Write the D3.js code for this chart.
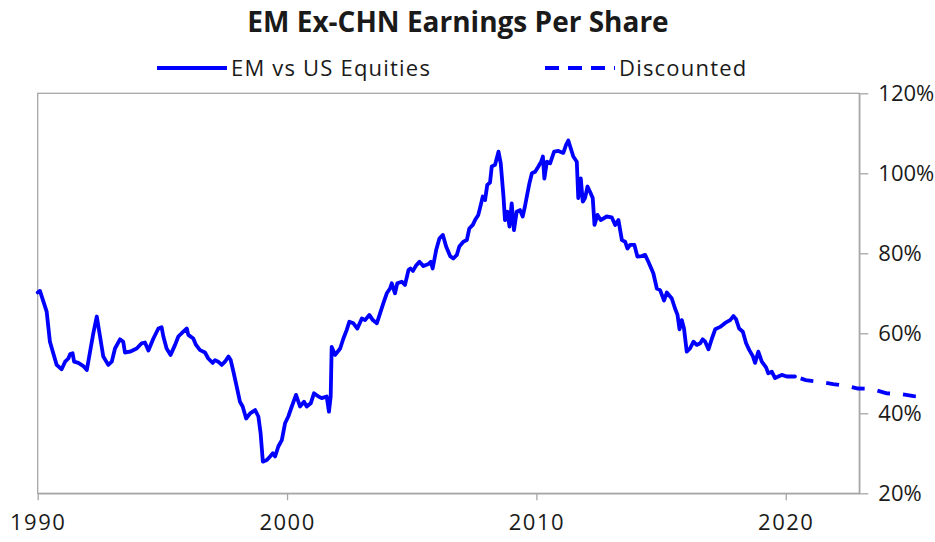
<!doctype html>
<html lang="en">

<head>
  <meta charset="utf-8">
  <script src="https://d3js.org/d3.v7.min.js"></script>
  <title>EM Ex-CHN Earnings Per Share</title>
  <style type="text/css">
    html,
    body {
      margin: 0;
      padding: 0;
      background: #fff;
    }

    svg {
      display: block;
    }

    text {
      font-family: "Open Sans", sans-serif;
      fill: #1a1a1a;
    }
  </style>
</head>

<body>
<script>
  // EM vs US equities, relative EPS (% )
  var years = [1990.00, 1990.09, 1990.36, 1990.49, 1990.76, 1990.96, 1991.10, 1991.23, 1991.30, 1991.40,
    1991.46, 1991.63, 1991.83, 1991.97, 1992.10, 1992.23, 1992.37, 1992.50, 1992.63, 1992.83,
    1992.97, 1993.10, 1993.30, 1993.43, 1993.50, 1993.70, 1993.97, 1994.17, 1994.30, 1994.44,
    1994.64, 1994.84, 1994.97, 1995.04, 1995.17, 1995.33, 1995.51, 1995.64, 1995.84, 1995.98,
    1996.04, 1996.24, 1996.35, 1996.51, 1996.71, 1996.84, 1997.02, 1997.11, 1997.24, 1997.38,
    1997.51, 1997.65, 1997.74, 1997.85, 1997.98, 1998.11, 1998.22, 1998.36, 1998.52, 1998.72,
    1998.85, 1998.94, 1999.03, 1999.19, 1999.32, 1999.43, 1999.52, 1999.65, 1999.79, 1999.92,
    2000.05, 2000.19, 2000.36, 2000.52, 2000.68, 2000.79, 2000.95, 2001.08, 2001.26, 2001.39,
    2001.59, 2001.68, 2001.75, 2001.79, 2001.93, 2002.13, 2002.26, 2002.39, 2002.50, 2002.66,
    2002.82, 2003.00, 2003.13, 2003.30, 2003.44, 2003.60, 2003.73, 2003.86, 2004.00, 2004.13,
    2004.20, 2004.33, 2004.42, 2004.60, 2004.73, 2004.87, 2004.95, 2005.05, 2005.16, 2005.31,
    2005.47, 2005.67, 2005.77, 2005.84, 2005.98, 2006.11, 2006.25, 2006.38, 2006.54, 2006.67,
    2006.81, 2006.91, 2007.07, 2007.21, 2007.31, 2007.45, 2007.54, 2007.67, 2007.77, 2007.85,
    2007.94, 2008.03, 2008.14, 2008.21, 2008.34, 2008.48, 2008.57, 2008.68, 2008.74, 2008.84,
    2008.92, 2009.01, 2009.10, 2009.21, 2009.34, 2009.45, 2009.54, 2009.64, 2009.72, 2009.82,
    2009.95, 2010.08, 2010.19, 2010.26, 2010.32, 2010.42, 2010.55, 2010.71, 2010.88, 2011.08,
    2011.19, 2011.28, 2011.38, 2011.48, 2011.62, 2011.68, 2011.78, 2011.86, 2011.95, 2012.05,
    2012.15, 2012.26, 2012.33, 2012.45, 2012.58, 2012.82, 2013.02, 2013.16, 2013.29, 2013.43,
    2013.56, 2013.65, 2013.76, 2013.93, 2014.05, 2014.23, 2014.36, 2014.49, 2014.69, 2014.83,
    2014.96, 2015.12, 2015.23, 2015.43, 2015.56, 2015.66, 2015.74, 2015.83, 2015.92, 2016.03,
    2016.16, 2016.30, 2016.43, 2016.57, 2016.67, 2016.77, 2016.90, 2017.04, 2017.17, 2017.37,
    2017.57, 2017.77, 2017.90, 2018.01, 2018.13, 2018.28, 2018.41, 2018.54, 2018.68, 2018.77,
    2018.90, 2019.04, 2019.21, 2019.30, 2019.44, 2019.57, 2019.70, 2019.84, 2020.04, 2020.37];

  var emVsUs = [70.2, 70.6, 65.4, 57.9, 52.1, 51.0, 52.9, 53.7, 54.8, 55.0,
    52.9, 52.6, 51.8, 50.8, 55.4, 60.0, 64.2, 59.2, 54.2, 52.1,
    52.9, 56.2, 58.5, 57.9, 55.2, 55.4, 56.2, 57.5, 57.7, 55.7,
    58.7, 61.2, 61.5, 59.2, 56.2, 54.6, 57.1, 59.2, 60.4, 61.2,
    59.6, 58.7, 57.1, 55.8, 55.2, 53.7, 52.6, 53.3, 52.9, 52.1,
    52.9, 54.2, 53.3, 50.4, 46.7, 42.9, 41.7, 38.7, 40.0, 40.8,
    39.2, 35.0, 27.9, 28.3, 29.2, 30.0, 29.2, 31.7, 33.3, 37.5,
    39.2, 41.7, 44.6, 41.7, 42.9, 41.7, 42.5, 45.0, 44.2, 43.8,
    44.2, 40.4, 44.2, 56.6, 54.6, 56.2, 58.7, 60.8, 62.9, 62.5,
    61.2, 63.7, 63.3, 64.6, 63.3, 62.5, 65.0, 67.5, 70.0, 71.2,
    72.5, 70.0, 72.5, 72.9, 72.1, 75.8, 76.2, 75.6, 76.8, 77.9,
    76.8, 77.3, 77.9, 76.2, 80.8, 83.7, 84.6, 81.7, 79.3, 78.7,
    79.6, 81.7, 82.9, 83.3, 86.2, 87.1, 88.3, 89.6, 92.1, 94.2,
    93.3, 97.1, 97.7, 101.7, 102.1, 105.4, 102.5, 94.2, 88.3, 90.4,
    86.7, 92.5, 85.8, 90.4, 90.8, 89.2, 91.7, 95.0, 97.5, 100.0,
    100.4, 101.7, 102.9, 104.2, 98.7, 102.9, 102.5, 105.4, 105.6, 105.1,
    107.1, 108.2, 106.2, 104.2, 102.9, 93.8, 98.7, 92.9, 93.8, 96.7,
    95.4, 93.8, 87.1, 89.6, 88.3, 89.2, 89.0, 87.1, 88.3, 83.3,
    82.9, 81.2, 82.1, 82.1, 79.2, 79.3, 79.6, 77.9, 75.0, 71.2,
    70.8, 68.2, 70.2, 68.7, 66.2, 64.6, 61.0, 63.3, 61.2, 55.4,
    56.2, 57.9, 57.1, 57.5, 58.5, 57.9, 56.0, 58.7, 61.0, 61.6,
    62.6, 63.3, 64.3, 63.5, 61.2, 60.4, 57.5, 55.8, 54.3, 52.6,
    55.4, 52.9, 51.5, 50.0, 50.4, 48.8, 49.2, 49.6, 49.2, 49.2];

  // discounted path, continues past the plot frame
  var discYears = [2020.37, 2020.80, 2021.30, 2021.90, 2022.40, 2022.90, 2023.45, 2024.05, 2024.60, 2025.13, 2025.68];
  var discounted = [49.2, 48.3, 47.9, 47.3, 46.9, 46.2, 46.1, 45.0, 44.8, 44.3, 44.0];

  var yearTicks = [1990, 2000, 2010, 2020];
  var pctTicks = [20, 40, 60, 80, 100, 120];

  var width = 935,
    height = 542;

  var plot = {
    left: 37.7,
    right: 859.3,
    top: 93.3,
    bottom: 493.3
  };

  var gray = "#a6a6a6",
    blue = "#0000ff";

  var xScale = d3.scaleLinear()
    .domain([1990, 2022.95])
    .range([plot.left, plot.right]);

  var yScale = d3.scaleLinear()
    .domain([20, 120])
    .range([plot.bottom, plot.top]);

  var svg = d3.select("body").append("svg")
    .attr("width", width)
    .attr("height", height);

  // frame round the plot
  svg.append("rect")
    .attr("x", plot.left)
    .attr("y", plot.top)
    .attr("width", plot.right - plot.left)
    .attr("height", plot.bottom - plot.top)
    .attr("fill", "none")
    .attr("stroke", gray)
    .attr("stroke-width", 1.3);

  // x axis
  var xAxis = svg.append("g")
    .attr("transform", "translate(0," + plot.bottom + ")")
    .call(d3.axisBottom(xScale)
      .tickValues(yearTicks)
      .tickSize(7)
      .tickSizeOuter(0)
      .tickPadding(14)
      .tickFormat(d3.format("d")));

  // y axis on the right
  var yAxis = svg.append("g")
    .attr("transform", "translate(" + plot.right + ",0)")
    .call(d3.axisRight(yScale)
      .tickValues(pctTicks)
      .tickSize(9)
      .tickSizeOuter(0)
      .tickPadding(10)
      .tickFormat(function(d) {
        return d + "%";
      }));

  [xAxis, yAxis].forEach(function(ax) {
    ax.select(".domain").attr("stroke", gray).attr("stroke-width", 1.3);
    ax.selectAll(".tick line").attr("stroke", gray).attr("stroke-width", 1.3);
    ax.selectAll(".tick text")
      .attr("fill", "#1a1a1a")
      .style("font-family", "'Open Sans', sans-serif")
      .style("font-size", "22px");
  });

  // wider digits on the year labels
  xAxis.selectAll(".tick text").style("letter-spacing", "1.5px");

  var line = d3.line()
    .x(function(d) {
      return xScale(d[0]);
    })
    .y(function(d) {
      return yScale(d[1]);
    });

  svg.append("path")
    .datum(d3.zip(years, emVsUs))
    .attr("fill", "none")
    .attr("stroke", blue)
    .attr("stroke-width", 3.8)
    .attr("stroke-linejoin", "round")
    .attr("stroke-linecap", "round")
    .attr("d", line);

  svg.append("path")
    .datum(d3.zip(discYears, discounted))
    .attr("fill", "none")
    .attr("stroke", blue)
    .attr("stroke-width", 3.8)
    .attr("stroke-dasharray", "13,13")
    .attr("stroke-dashoffset", -6)
    .attr("d", line);

  // title
  svg.append("text")
    .attr("x", 458)
    .attr("y", 32)
    .attr("text-anchor", "middle")
    .style("font-size", "28px")
    .style("font-weight", "bold")
    .text("EM Ex-CHN Earnings Per Share");

  // legend
  var legend = [{
    name: "EM vs US Equities",
    x: 157,
    dash: null
  }, {
    name: "Discounted",
    x: 545,
    dash: "14,9"
  }];

  legend.forEach(function(l) {
    svg.append("line")
      .attr("x1", l.x)
      .attr("x2", l.x + 70)
      .attr("y1", 68)
      .attr("y2", 68)
      .attr("stroke", blue)
      .attr("stroke-width", 3.8)
      .attr("stroke-dasharray", l.dash);

    svg.append("text")
      .attr("x", l.x + 74)
      .attr("y", 76)
      .style("font-size", "22px")
      .style("letter-spacing", "1.2px")
      .text(l.name);
  });
</script>
</body>

</html>
